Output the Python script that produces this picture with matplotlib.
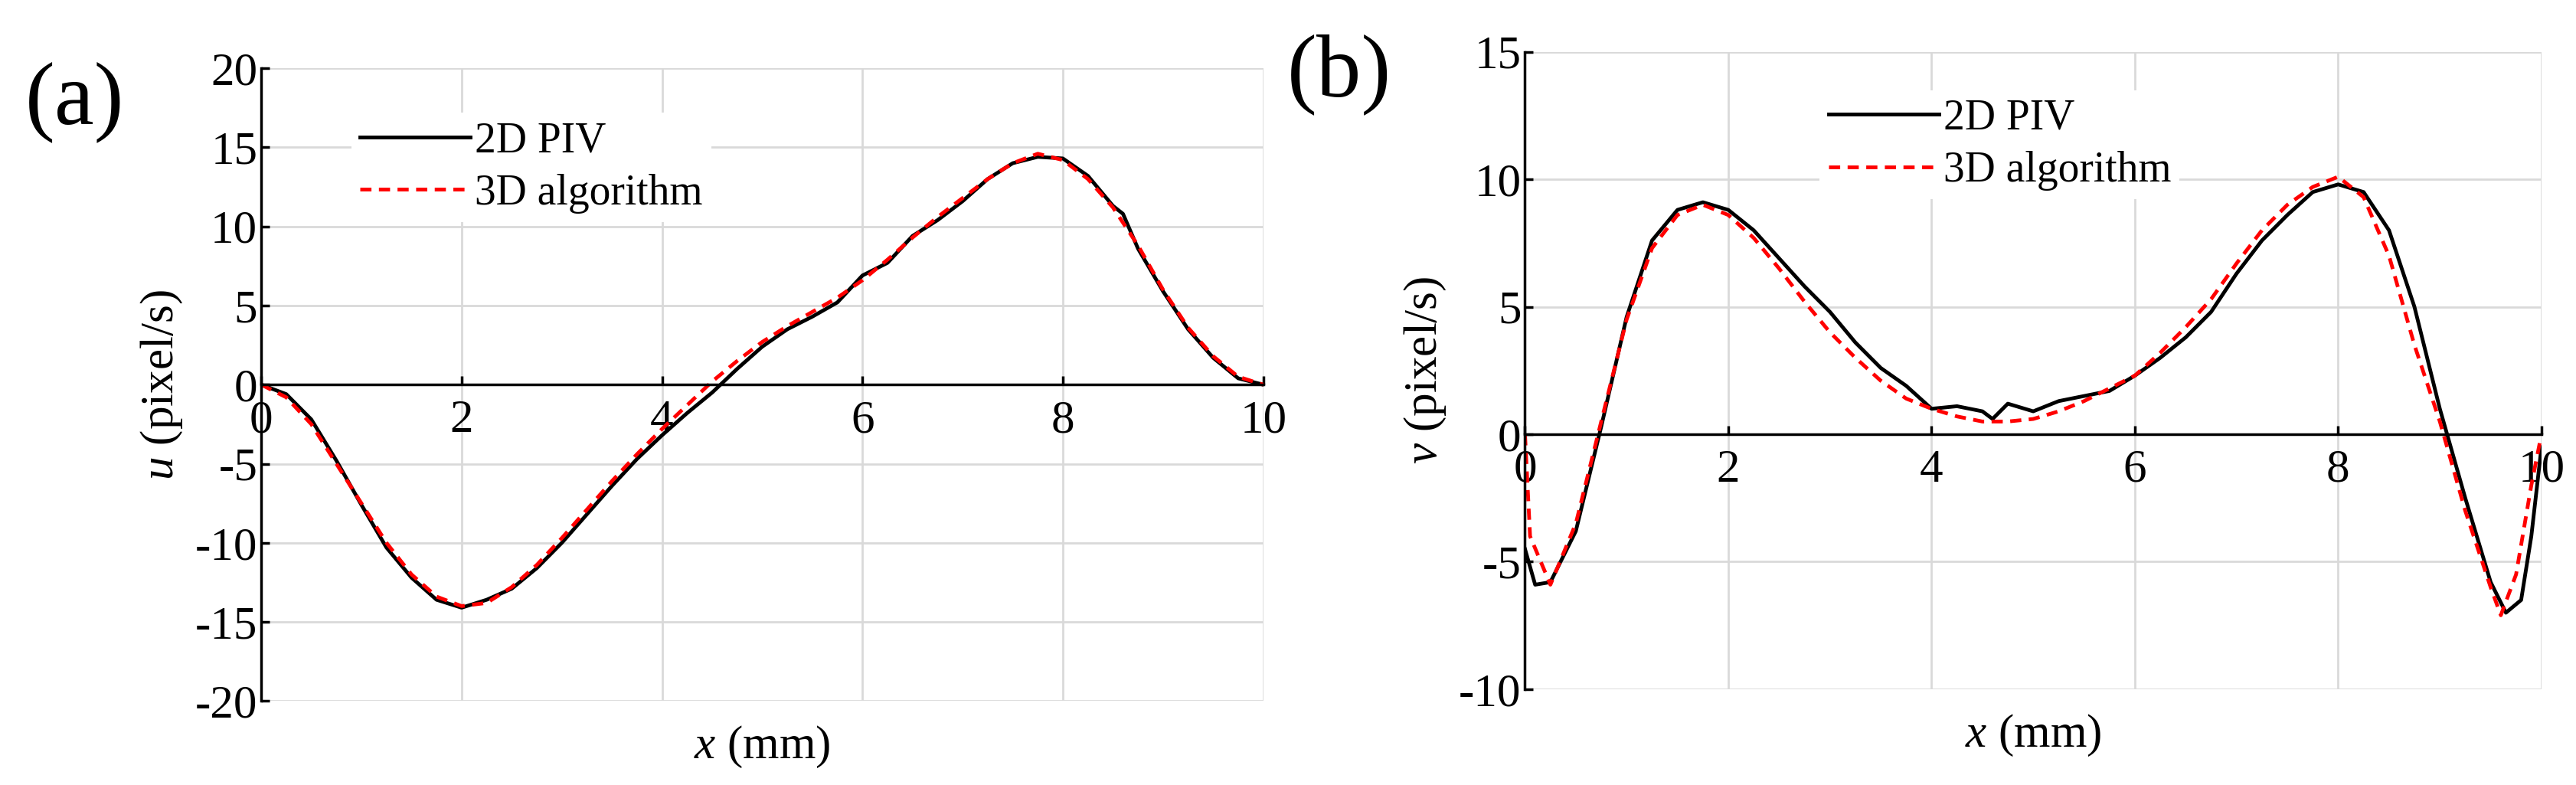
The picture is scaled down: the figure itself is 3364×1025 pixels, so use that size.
import matplotlib
matplotlib.use("Agg")
import matplotlib.pyplot as plt

plt.rcParams["font.family"] = "Liberation Serif"
plt.rcParams["mathtext.fontset"] = "custom"
plt.rcParams["mathtext.it"] = "Liberation Serif:italic"
plt.rcParams["mathtext.rm"] = "Liberation Serif"
plt.rcParams["axes.unicode_minus"] = False

# panel (a): u along x
u_x_3d = [0, 0.25, 0.5, 0.75, 1, 1.25, 1.5, 1.75, 2, 2.25, 2.5, 2.75, 3, 3.25, 3.5, 3.75,
          4, 4.25, 4.5, 4.75, 5, 5.25, 5.5, 5.75, 6, 6.25, 6.5, 6.75, 7, 7.25, 7.5, 7.75,
          8, 8.25, 8.5, 8.75, 9, 9.25, 9.5, 9.75, 10]
u_3d = [0, -0.8, -2.5, -5.0, -7.5, -10.0, -12.0, -13.4, -14.0, -13.8, -12.8, -11.4, -9.7,
        -7.9, -6.1, -4.4, -2.8, -1.3, 0.2, 1.5, 2.7, 3.7, 4.6, 5.5, 6.6, 7.9, 9.3, 10.6,
        11.8, 13.0, 14.0, 14.6, 14.2, 13.0, 11.2, 8.8, 6.0, 3.6, 1.8, 0.5, 0.0]
u_x_piv = [0, 0.25, 0.5, 0.75, 1, 1.25, 1.5, 1.75, 2, 2.25, 2.5, 2.75, 3, 3.25, 3.5, 3.75,
           4, 4.25, 4.5, 4.75, 5, 5.25, 5.5, 5.75, 6, 6.25, 6.5, 6.75, 7, 7.25, 7.5, 7.75,
           8, 8.25, 8.5, 8.6, 8.75, 9, 9.25, 9.5, 9.75, 10]
u_piv = [0, -0.6, -2.2, -4.8, -7.6, -10.3, -12.2, -13.6, -14.1, -13.6, -12.9, -11.6, -10.0,
         -8.2, -6.4, -4.7, -3.2, -1.8, -0.5, 1.0, 2.4, 3.5, 4.3, 5.2, 6.9, 7.7, 9.4, 10.4,
         11.6, 13.0, 14.0, 14.4, 14.3, 13.2, 11.3, 10.8, 8.6, 5.9, 3.5, 1.7, 0.4, 0.0]

# panel (b): v along x
v_x_3d = [0, 0.05, 0.25, 0.5, 0.75, 1, 1.25, 1.5, 1.75, 2, 2.25, 2.5, 2.75, 3, 3.25, 3.5,
          3.75, 4, 4.25, 4.5, 4.75, 5, 5.25, 5.5, 5.75, 6, 6.25, 6.5, 6.75, 7, 7.25, 7.5,
          7.75, 8, 8.25, 8.5, 8.75, 9, 9.25, 9.5, 9.6, 9.75, 9.9, 10]
v_3d = [0, -4.0, -5.9, -3.5, 0.5, 4.5, 7.3, 8.6, 9.0, 8.6, 7.7, 6.5, 5.2, 4.0, 3.0, 2.1,
        1.4, 1.0, 0.7, 0.5, 0.5, 0.6, 0.9, 1.3, 1.8, 2.3, 3.2, 4.2, 5.3, 6.7, 8.0, 9.0,
        9.7, 10.1, 9.3, 7.0, 3.5, 0.5, -3.0, -6.0, -7.1, -5.5, -2.0, 0.0]
v_x_piv = [0, 0.1, 0.25, 0.5, 0.75, 1, 1.25, 1.5, 1.75, 2, 2.25, 2.5, 2.75, 3, 3.25, 3.5,
           3.75, 4, 4.25, 4.5, 4.6, 4.75, 5, 5.25, 5.5, 5.75, 6, 6.25, 6.5, 6.75, 7, 7.25,
           7.5, 7.75, 8, 8.25, 8.5, 8.75, 9, 9.25, 9.5, 9.65, 9.8, 9.9, 10]
v_piv = [-4.5, -5.9, -5.8, -3.8, 0.3, 4.6, 7.6, 8.8, 9.1, 8.8, 8.0, 6.9, 5.8, 4.8, 3.6, 2.6,
         1.9, 1.0, 1.1, 0.9, 0.6, 1.2, 0.9, 1.3, 1.5, 1.7, 2.3, 3.0, 3.8, 4.8, 6.3, 7.6,
         8.6, 9.5, 9.8, 9.5, 8.0, 5.0, 1.0, -2.5, -5.8, -7.0, -6.5, -4.0, -0.5]

panels = [
    dict(pos=[0.1014, 0.107, 0.389, 0.806], x3=u_x_3d, y3=u_3d, xp=u_x_piv, yp=u_piv,
         ylim=(-20, 20), yticks=range(-20, 21, 5), ylabel="$u$ (pixel/s)", tag="(a)",
         tagpos=(0.029, 0.87), leg=(0.09, 0.93)),
    dict(pos=[0.592, 0.122, 0.3946, 0.812], x3=v_x_3d, y3=v_3d, xp=v_x_piv, yp=v_piv,
         ylim=(-10, 15), yticks=range(-10, 16, 5), ylabel="$v$ (pixel/s)", tag="(b)",
         tagpos=(0.520, 0.905), leg=(0.29, 0.94)),
]

fig = plt.figure(figsize=(33.64, 10.25), dpi=100)
for p in panels:
    ax = fig.add_axes(p["pos"])
    ax.plot(p["xp"], p["yp"], color="black", lw=3.5, label="2D PIV")
    ax.plot(p["x3"], p["y3"], color="red", lw=3.5, ls=(0, (3, 2)), label="3D algorithm")
    ax.set_xlim(0, 10)
    ax.set_ylim(*p["ylim"])
    ax.set_xticks(range(0, 11, 2))
    ax.set_yticks(list(p["yticks"]))
    ax.grid(True, color="#d9d9d9", lw=2)
    ax.set_axisbelow(True)
    for s in ("top", "right"):
        ax.spines[s].set_visible(False)
    ax.spines["left"].set_linewidth(2.5)
    ax.spines["bottom"].set_position(("data", 0))
    ax.spines["bottom"].set_linewidth(2.5)
    ax.tick_params(labelsize=44, width=2.5, length=8, direction="in")
    ax.tick_params(axis="x", pad=14)
    ax.set_ylabel(p["ylabel"], fontsize=44, labelpad=10)
    fig.text((p["pos"][0] + p["pos"][0] + p["pos"][2]) / 2, p["pos"][1] - 0.03,
             "$x$ (mm)", fontsize=44, ha="center", va="top")
    fig.text(*p["tagpos"], p["tag"], fontsize=84, ha="center", va="center")
    leg = ax.legend(loc="upper left", bbox_to_anchor=p["leg"], fontsize=40, frameon=True,
                    framealpha=1, edgecolor="none", handlelength=2.6, handletextpad=0.1,
                    borderaxespad=0, borderpad=0.2, labelspacing=0.3)

fig.savefig("out.png", dpi=100)
